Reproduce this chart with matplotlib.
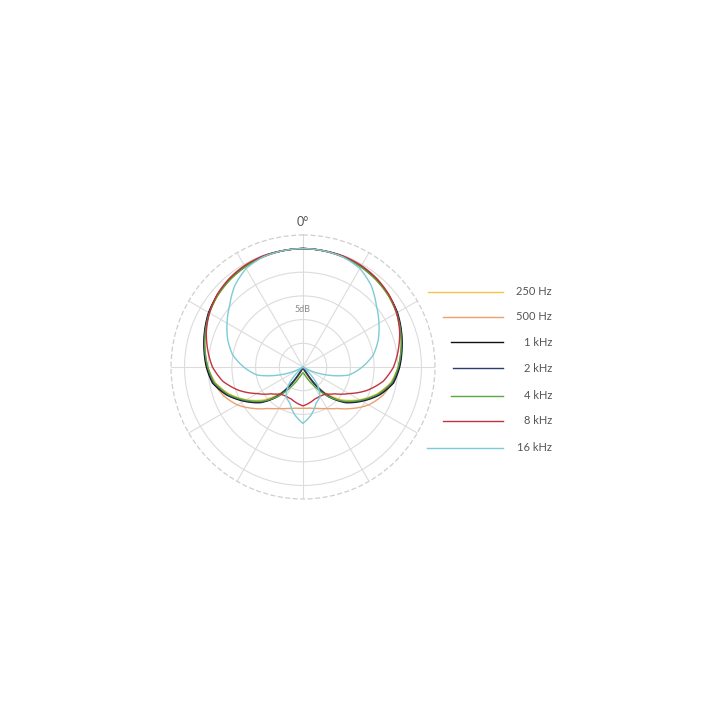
import numpy as np
import matplotlib
matplotlib.use("Agg")
import matplotlib.pyplot as plt
from matplotlib.lines import Line2D

# ---- data (dB, angle in degrees, 0..360 step 10) ----
angles_deg = [0, 10, 20, 30, 40, 50, 60, 70, 80, 90, 100, 110, 120, 130, 140, 150, 160, 170, 180,
              190, 200, 210, 220, 230, 240, 250, 260, 270, 280, 290, 300, 310, 320, 330, 340, 350, 360]

hz250 = [0, -0.1, -0.3, -0.6, -1.0, -1.5, -2.2, -3.0, -3.9, -4.9, -6.2, -8.4, -11.2, -14.2, -18.0, -22.0, -24.5, -25, -25,
         -25, -24.5, -22.0, -18.0, -14.2, -11.2, -8.4, -6.2, -4.9, -3.9, -3.0, -2.2, -1.5, -1.0, -0.6, -0.3, -0.1, 0]
hz500 = [0, -0.1, -0.3, -0.6, -1.0, -1.5, -2.2, -3.1, -4.0, -4.9, -5.9, -7.2, -9.0, -11.4, -13.6, -14.9, -15.7, -16.2, -16.3,
         -16.2, -15.7, -14.9, -13.6, -11.4, -9.0, -7.2, -5.9, -4.9, -4.0, -3.1, -2.2, -1.5, -1.0, -0.6, -0.3, -0.1, 0]
khz1 = [0, -0.1, -0.2, -0.5, -0.9, -1.4, -2.0, -2.9, -3.8, -4.6, -5.6, -7.8, -10.6, -13.3, -17.0, -23.5, -25, -25, -25,
        -25, -25, -23.5, -17.0, -13.3, -10.6, -7.8, -5.6, -4.6, -3.8, -2.9, -2.0, -1.4, -0.9, -0.5, -0.2, -0.1, 0]
khz2 = [0, -0.1, -0.2, -0.5, -0.9, -1.4, -2.1, -3.0, -3.9, -4.8, -5.8, -8.0, -10.8, -13.5, -17.5, -24.0, -25, -25, -25,
        -25, -25, -24.0, -17.5, -13.5, -10.8, -8.0, -5.8, -4.8, -3.9, -3.0, -2.1, -1.4, -0.9, -0.5, -0.2, -0.1, 0]
khz4 = [0, -0.1, -0.3, -0.6, -1.0, -1.5, -2.2, -3.1, -4.0, -4.9, -6.0, -8.2, -11.0, -13.8, -17.0, -20.5, -22.6, -23.5, -23.8,
        -23.5, -22.6, -20.5, -17.0, -13.8, -11.0, -8.2, -6.0, -4.9, -4.0, -3.1, -2.2, -1.5, -1.0, -0.6, -0.3, -0.1, 0]
khz8 = [0, -0.1, -0.1, -0.3, -0.7, -1.3, -2.2, -3.3, -4.6, -5.9, -7.8, -10.6, -13.8, -16.2, -17.6, -17.9, -17.8, -17.3, -16.8,
        -17.3, -17.8, -17.9, -17.6, -16.2, -13.8, -10.6, -7.8, -5.9, -4.6, -3.3, -2.2, -1.3, -0.7, -0.3, -0.1, -0.1, 0]
khz16 = [0, -0.1, -0.3, -1.0, -2.6, -4.8, -6.5, -8.1, -9.9, -12.5, -15.2, -20.5, -25, -25, -20.5, -17.8, -16.9, -14.8, -13.1,
         -14.8, -16.9, -17.8, -20.5, -25, -25, -20.5, -15.2, -12.5, -9.9, -8.1, -6.5, -4.8, -2.6, -1.0, -0.3, -0.1, 0]

series_labels = ["250 Hz", "500 Hz", "1 kHz", "2 kHz", "4 kHz", "8 kHz", "16 kHz"]
series_values = [hz250, hz500, khz1, khz2, khz4, khz8, khz16]
series_colors = ["#f3c64a", "#ee9f6e", "#111111", "#2c3b70", "#5aa83c", "#c2323f", "#7ccbd6"]
ring_levels = [-20, -15, -10, -5, 0]
spoke_angles = [0, 30, 60, 90, 120, 150, 180, 210, 240, 270, 300, 330]

R_MIN, R_MAX = -25, 2.85

fig = plt.figure(figsize=(7.2, 7.2), dpi=100)
fig.patch.set_facecolor("white")

cx, cy, rad = 303, 367, 132
ax = fig.add_axes([(cx - rad) / 720, (720 - cy - rad) / 720, 2 * rad / 720, 2 * rad / 720],
                  projection="polar")
ax.set_theta_zero_location("N")
ax.set_theta_direction(-1)
ax.set_ylim(R_MIN, R_MAX)
ax.set_facecolor("none")

ax.set_yticks(ring_levels)
ax.set_yticklabels([])
ax.set_xticks(np.deg2rad(spoke_angles))
ax.set_xticklabels([])
ax.grid(True, color="#dcdcdc", lw=0.8, ls="-")
ax.spines["polar"].set_linestyle((0, (3, 3)))
ax.spines["polar"].set_color("#cfcfcf")
ax.spines["polar"].set_linewidth(0.9)
ax.tick_params(length=0)

theta = np.deg2rad(angles_deg)
draw_order = [0, 1, 6, 5, 4, 3, 2]
for i in draw_order:
    ln, = ax.plot(theta, series_values[i], color=series_colors[i], lw=1.0,
                  zorder=3 + i * 0.1, solid_joinstyle="round")
    ln.recache_always()
    ln._path._interpolation_steps = 16

ax.text(0, -12.8, "5dB", ha="center", va="center", fontsize=6.5, color="#888888",
        family="Lato", zorder=5)
ax.text(0, 5.5, "0°", ha="center", va="center", fontsize=9, color="#555555",
        family="Lato", clip_on=False)

# legend
legend_y = [291.7, 316.7, 342.3, 368.3, 395.7, 420.7, 447.7]
legend_x0 = [428, 443, 451, 453, 451, 443, 427]
legend_x1 = 503
for i, lab in enumerate(series_labels):
    yf = 1 - legend_y[i] / 720
    fig.add_artist(Line2D([legend_x0[i] / 720, legend_x1 / 720], [yf, yf],
                          color=series_colors[i], lw=1.0, transform=fig.transFigure))
    fig.text(552 / 720, yf, lab, ha="right", va="center", fontsize=8,
             color="#555555", family="Lato")

fig.savefig("out.png", dpi=100, facecolor="white")
